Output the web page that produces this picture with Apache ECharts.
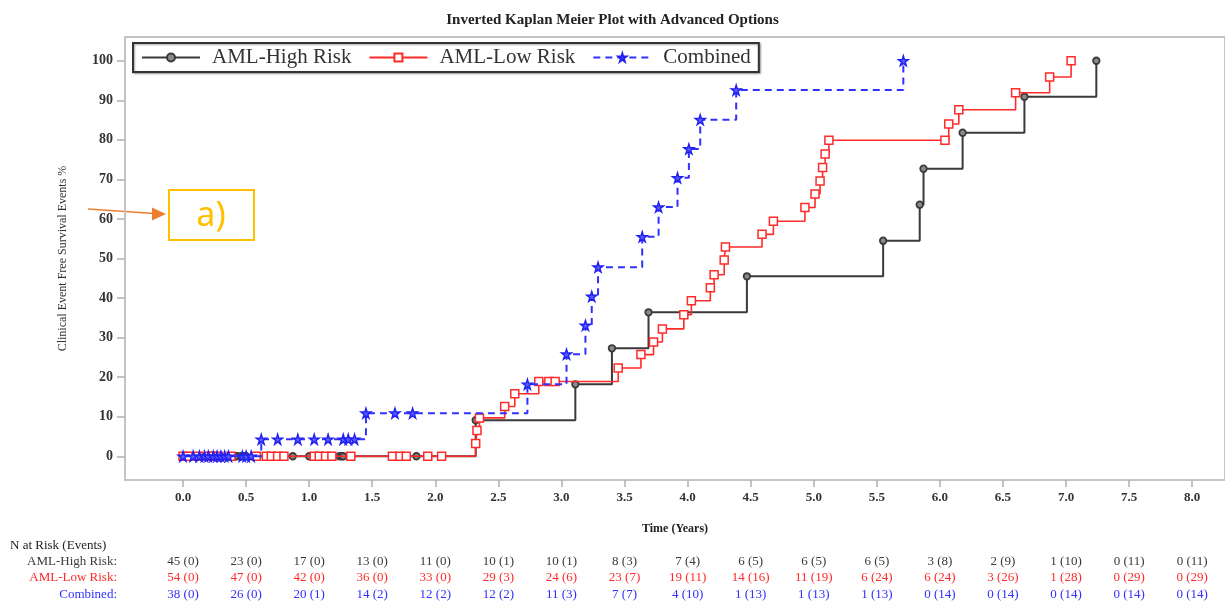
<!DOCTYPE html>
<html>
<head>
<meta charset="utf-8">
<script src="https://cdn.jsdelivr.net/npm/echarts@6/dist/echarts.min.js"></script>
<style>
  html, body { margin: 0; padding: 0; background: #ffffff; }
  #chart { width: 1225px; height: 605px; }
</style>
</head>
<body>
<div id="chart"></div>
<script>
// ---- Tick positions ----
const timeTicks = [0, 0.5, 1, 1.5, 2, 2.5, 3, 3.5, 4, 4.5, 5, 5.5, 6, 6.5, 7, 7.5, 8];
const pctTicks = [0, 10, 20, 30, 40, 50, 60, 70, 80, 90, 100];

// ---- AML-High Risk (cumulative event %, markers at every recorded time) ----
const highTimes = [0, 0.41, 0.43, 0.46, 0.48, 0.50, 0.66, 0.70, 0.73, 0.87, 1.00, 1.24, 1.26, 1.27, 1.71, 1.85,
  2.32, 3.11, 3.40, 3.69, 4.47, 5.55, 5.84, 5.87, 6.18, 6.67, 7.24];
const highValues = [0, 0, 0, 0, 0, 0, 0, 0, 0, 0, 0, 0, 0, 0, 0, 0,
  9.1, 18.2, 27.3, 36.4, 45.5, 54.5, 63.6, 72.7, 81.8, 90.9, 100];

// ---- AML-Low Risk ----
const lowTimes = [0, 0.04, 0.12, 0.20, 0.24, 0.28, 0.38, 0.58, 0.66, 0.70, 0.75, 0.80, 1.04, 1.08, 1.13, 1.18, 1.33,
  1.66, 1.72, 1.77, 1.94, 2.05,
  2.32, 2.33, 2.35, 2.55, 2.63, 2.82, 2.90, 2.95, 3.45, 3.63, 3.73, 3.80, 3.97, 4.03, 4.18, 4.21, 4.29, 4.30,
  4.59, 4.68, 4.93, 5.01, 5.05, 5.07, 5.09, 5.12, 6.04, 6.07, 6.15, 6.60, 6.87, 7.04];
const lowValues = [0, 0, 0, 0, 0, 0, 0, 0, 0, 0, 0, 0, 0, 0, 0, 0, 0,
  0, 0, 0, 0, 0,
  3.2, 6.5, 9.7, 12.6, 15.8, 18.9, 18.9, 18.9, 22.3, 25.7, 28.9, 32.2, 35.8, 39.3, 42.6, 45.9, 49.6, 52.9,
  56.1, 59.4, 62.9, 66.3, 69.6, 73.0, 76.4, 79.9, 79.9, 84.0, 87.6, 91.9, 95.9, 100];

// ---- Combined ----
const combTimes = [0, 0.08, 0.13, 0.17, 0.20, 0.24, 0.27, 0.30, 0.33, 0.36, 0.47, 0.50, 0.54,
  0.62, 0.75, 0.91, 1.04, 1.15, 1.27, 1.31, 1.36, 1.45, 1.68, 1.82,
  2.73, 3.04, 3.19, 3.24, 3.29, 3.64, 3.77, 3.92, 4.01, 4.10, 4.385, 5.71];
const combValues = [0, 0, 0, 0, 0, 0, 0, 0, 0, 0, 0, 0, 0,
  4.3, 4.3, 4.3, 4.3, 4.3, 4.3, 4.3, 4.3, 10.9, 10.9, 10.9,
  18.2, 25.8, 33.1, 40.4, 47.8, 55.5, 63.0, 70.4, 77.7, 85.1, 92.6, 100];

// ---- Number at risk (events) at each time tick ----
const riskTimes = timeTicks;
const highAtRisk = [45, 23, 17, 13, 11, 10, 10, 8, 7, 6, 6, 6, 3, 2, 1, 0, 0];
const highEvents = [0, 0, 0, 0, 0, 1, 1, 3, 4, 5, 5, 5, 8, 9, 10, 11, 11];
const lowAtRisk = [54, 47, 42, 36, 33, 29, 24, 23, 19, 14, 11, 6, 6, 3, 1, 0, 0];
const lowEvents = [0, 0, 0, 0, 0, 3, 6, 7, 11, 16, 19, 24, 24, 26, 28, 29, 29];
const combAtRisk = [38, 26, 20, 14, 12, 12, 11, 7, 4, 1, 1, 1, 0, 0, 0, 0, 0];
const combEvents = [0, 0, 1, 2, 2, 2, 3, 7, 10, 13, 13, 13, 14, 14, 14, 14, 14];

const seriesNames = ['AML-High Risk', 'AML-Low Risk', 'Combined'];
const colHigh = '#3a3a3a';
const colLow = '#ff2a2a';
const colComb = '#3030ff';
const serif = '"Liberation Serif", "DejaVu Serif", serif';
const starPath = 'path://M50,0 L61,35 L98,35 L68,57 L79,91 L50,70 L21,91 L32,57 L2,35 L39,35 Z';

function pairs(xs, ys) { return xs.map((x, i) => [x, ys[i]]); }

const chart = echarts.init(document.getElementById('chart'), null, { renderer: 'canvas' });

chart.setOption({
  backgroundColor: '#ffffff',
  animation: false,
  title: {
    text: 'Inverted Kaplan Meier Plot with Advanced Options',
    left: 'center', top: 8,
    textStyle: { fontFamily: serif, fontWeight: 'bold', fontSize: 15, color: '#222' }
  },
  legend: {
    left: 133, top: 43,
    orient: 'horizontal',
    itemWidth: 58, itemHeight: 10, itemGap: 17,
    padding: [4, 8, 4, 8],
    borderColor: '#333', borderWidth: 2,
    shadowColor: 'rgba(0,0,0,0.35)', shadowBlur: 2, shadowOffsetX: 1, shadowOffsetY: 1,
    backgroundColor: '#fff',
    textStyle: { fontFamily: serif, fontSize: 21, color: '#333', padding: [0, 0, 0, 7] },
    data: seriesNames
  },
  grid: {
    left: 125, top: 37, width: 1102, height: 443,
    show: true, borderColor: '#c4c4c4', borderWidth: 2, backgroundColor: '#fff'
  },
  xAxis: {
    type: 'value', min: -0.46, max: 8.26,
    name: 'Time (Years)', nameLocation: 'middle', nameGap: 43,
    nameTextStyle: { fontFamily: serif, fontWeight: 'bold', fontSize: 12, color: '#222' },
    axisLine: { show: true, onZero: false, lineStyle: { color: '#c4c4c4', width: 2 } },
    axisTick: { show: true, length: 7, customValues: timeTicks, lineStyle: { color: '#b0b0b0', width: 1.5 } },
    axisLabel: {
      customValues: timeTicks, margin: 11,
      formatter: v => v.toFixed(1),
      fontFamily: serif, fontWeight: 'bold', fontSize: 13, color: '#333'
    },
    splitLine: { show: false }
  },
  yAxis: {
    type: 'value', min: -6, max: 106,
    name: 'Clinical Event Free Survival Events %', nameLocation: 'middle', nameGap: 56,
    nameTextStyle: { fontFamily: serif, fontSize: 12, color: '#333' },
    axisLine: { show: true, onZero: false, lineStyle: { color: '#c4c4c4', width: 2 } },
    axisTick: { show: true, length: 8, customValues: pctTicks, lineStyle: { color: '#b0b0b0', width: 1.5 } },
    axisLabel: {
      customValues: pctTicks, margin: 12,
      fontFamily: serif, fontWeight: 'bold', fontSize: 14, color: '#333'
    },
    splitLine: { show: false }
  },
  series: [
    {
      name: seriesNames[0], type: 'line', step: 'end', z: 3,
      data: pairs(highTimes, highValues),
      symbol: 'circle', symbolSize: 6.5,
      itemStyle: { color: '#8a8a8a', borderColor: colHigh, borderWidth: 1.8 },
      lineStyle: { color: colHigh, width: 2 }
    },
    {
      name: seriesNames[1], type: 'line', step: 'end', z: 4,
      data: pairs(lowTimes, lowValues),
      symbol: 'rect', symbolSize: 8,
      itemStyle: { color: '#ffffff', borderColor: colLow, borderWidth: 1.5 },
      lineStyle: { color: colLow, width: 1.6 }
    },
    {
      name: seriesNames[2], type: 'line', step: 'end', z: 5,
      data: pairs(combTimes, combValues),
      symbol: starPath, symbolSize: 10,
      itemStyle: { color: '#5a5aff', borderColor: '#2020f0', borderWidth: 1.4 },
      lineStyle: { color: colComb, width: 2, type: [7, 5] }
    }
  ]
});

// ---- Risk table and annotation drawn below / over the plot ----
const tableFont = '13px ' + serif;
const rowY = [562, 578, 595];
const rows = [
  { label: 'AML-High Risk:', n: highAtRisk, e: highEvents, color: colHigh },
  { label: 'AML-Low Risk:', n: lowAtRisk, e: lowEvents, color: colLow },
  { label: 'Combined:', n: combAtRisk, e: combEvents, color: colComb }
];
const elements = [{
  type: 'text', left: 10, top: 539,
  style: { text: 'N at Risk (Events)', font: tableFont, fill: '#222' }
}];
rows.forEach((row, r) => {
  elements.push({
    type: 'text', x: 117, y: rowY[r],
    style: { text: row.label, font: tableFont, fill: row.color, align: 'right', verticalAlign: 'middle' }
  });
  riskTimes.forEach((t, i) => {
    const px = chart.convertToPixel({ xAxisIndex: 0 }, t);
    elements.push({
      type: 'text', x: px, y: rowY[r],
      style: { text: row.n[i] + ' (' + row.e[i] + ')', font: tableFont, fill: row.color, align: 'center', verticalAlign: 'middle' }
    });
  });
});

// callout "a)" with its pointer arrow
elements.push(
  { type: 'line', shape: { x1: 88, y1: 209, x2: 154, y2: 213.5 }, style: { stroke: '#ED7D31', lineWidth: 1.5 } },
  { type: 'polygon', shape: { points: [[166, 214], [152, 207.5], [152, 220.5]] }, style: { fill: '#ED7D31' } },
  { type: 'rect', shape: { x: 169, y: 190, width: 85, height: 50 }, style: { fill: '#fff', stroke: '#FFC000', lineWidth: 2 } },
  {
    type: 'text', x: 211, y: 216,
    style: { text: 'a)', font: '34px "Noto Sans", "Open Sans", sans-serif', fill: '#FFC000', align: 'center', verticalAlign: 'middle' }
  }
);

chart.setOption({ graphic: { elements: elements } });
</script>
</body>
</html>
